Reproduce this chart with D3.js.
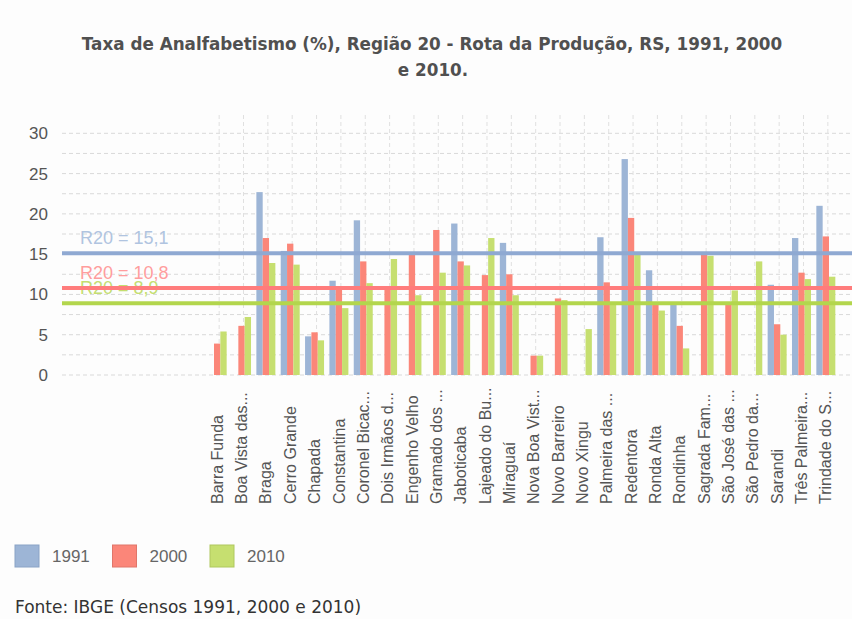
<!DOCTYPE html>
<html lang="pt">
<head>
    <meta charset="UTF-8">
    <title>Taxa de Analfabetismo</title>
    <script src="https://cdn.jsdelivr.net/npm/d3@7/dist/d3.min.js"></script>
    <style>
        body { margin: 0; background: #fdfdfd; }
    </style>
</head>
<body>
    <svg width="852" height="619" id="mainsvg"></svg>
    <script>
        const categories = ['Barra Funda', 'Boa Vista das...', 'Braga', 'Cerro Grande', 'Chapada',
            'Constantina', 'Coronel Bicac...', 'Dois Irmãos d...', 'Engenho Velho', 'Gramado dos ...',
            'Jaboticaba', 'Lajeado do Bu...', 'Miraguaí', 'Nova Boa Vist...', 'Novo Barreiro',
            'Novo Xingu', 'Palmeira das ...', 'Redentora', 'Ronda Alta', 'Rondinha',
            'Sagrada Fam...', 'São José das ...', 'São Pedro da...', 'Sarandi', 'Três Palmeira...',
            'Trindade do S...'];
        const series = ['1991', '2000', '2010'];
        const v1991 = [null, null, 22.7, 15.4, 4.8, 11.7, 19.2, null, null, null, 18.8, null, 16.4,
            null, null, null, 17.1, 26.8, 13.0, 8.7, null, null, null, 11.2, 17.0, 21.0];
        const v2000 = [3.9, 6.1, 17.0, 16.3, 5.3, 10.9, 14.1, 10.8, 15.0, 18.0, 14.1, 12.4, 12.5,
            2.4, 9.5, null, 11.5, 19.5, 8.8, 6.1, 15.0, 8.7, null, 6.3, 12.7, 17.2];
        const v2010 = [5.4, 7.2, 13.9, 13.7, 4.3, 8.3, 11.4, 14.4, 9.9, 12.7, 13.6, 17.0, 9.9,
            2.4, 9.3, 5.7, 8.8, 15.0, 8.0, 3.3, 14.8, 10.5, 14.1, 5.0, 11.9, 12.2];
        const averages = [15.1, 10.8, 8.9];
        const avgLabels = ['R20 = 15,1', 'R20 = 10,8', 'R20 = 8,9'];
        const yTicks = [0, 5, 10, 15, 20, 25, 30];
        const yMinor = [2.5, 7.5, 12.5, 17.5, 22.5, 27.5];

        const barColors = ['#9db5d6', '#fb8679', '#c6df70'];
        const boxStroke = ['#8aa3c6', '#e0766a', '#afc85e'];
        const lineColors = ['#8fa9d2', '#ff7c7c', '#b3d64d'];
        const labelColors = ['#b0c4e0', '#ff9d9d', '#c4de70'];

        const svg = d3.select('#mainsvg');
        const plotLeft = 62, plotRight = 850, plotTop = 115, plotBottom = 375;

        const x = d3.scaleBand().domain(categories).range([205, 838]).paddingInner(0.22).paddingOuter(0.11);
        const x1 = d3.scaleBand().domain(series).range([0, x.bandwidth()]);
        const y = d3.scaleLinear().domain([0, 30]).range([plotBottom, 133.3]);

        // title
        const title = svg.append('g')
            .attr('font-family', 'DejaVu Sans')
            .attr('font-weight', 'bold')
            .attr('font-size', 16.8)
            .attr('fill', '#505050')
            .attr('text-anchor', 'middle');
        title.append('text').attr('x', 432).attr('y', 50)
            .text('Taxa de Analfabetismo (%), Região 20 - Rota da Produção, RS, 1991, 2000');
        title.append('text').attr('x', 433).attr('y', 76).text('e 2010.');

        // grid
        const grid = svg.append('g').attr('stroke', '#d9d9d9').attr('stroke-dasharray', '4,3');
        grid.selectAll('.hmajor').data(yTicks.concat(yMinor)).join('line')
            .attr('x1', plotLeft).attr('x2', plotRight)
            .attr('y1', d => y(d)).attr('y2', d => y(d));
        grid.selectAll('.vgrid').data(categories).join('line')
            .attr('x1', d => x(d) + x.bandwidth() / 2 + 2)
            .attr('x2', d => x(d) + x.bandwidth() / 2 + 2)
            .attr('y1', plotTop).attr('y2', plotBottom)
            .attr('stroke', '#e0e0e0');

        // y axis
        svg.append('g')
            .attr('transform', `translate(${plotLeft},0)`)
            .call(d3.axisLeft(y).tickValues(yTicks).tickSize(0).tickPadding(14))
            .call(g => g.select('.domain').remove())
            .selectAll('text')
            .attr('font-family', 'Liberation Sans, Arial, sans-serif')
            .attr('font-size', 17)
            .attr('fill', '#555');

        // x axis, labels rotated and bottom-aligned
        svg.append('g')
            .attr('transform', `translate(0,${plotBottom})`)
            .call(d3.axisBottom(x).tickSize(0))
            .call(g => g.select('.domain').remove())
            .selectAll('text')
            .attr('x', 0).attr('y', 0).attr('dy', '0.35em')
            .attr('transform', 'translate(0,129) rotate(-90)')
            .attr('text-anchor', 'start')
            .attr('font-family', 'Liberation Sans, Arial, sans-serif')
            .attr('font-size', 16)
            .attr('fill', '#555');

        // bars
        const values = [v1991, v2000, v2010];
        const rows = categories.map((c, i) => ({
            cat: c,
            vals: series.map((s, k) => ({ s: s, k: k, v: values[k][i] }))
        }));
        svg.append('g').selectAll('g').data(rows).join('g')
            .attr('transform', d => `translate(${x(d.cat)},0)`)
            .selectAll('rect').data(d => d.vals.filter(e => e.v !== null)).join('rect')
            .attr('x', d => x1(d.s))
            .attr('width', x1.bandwidth())
            .attr('y', d => y(d.v))
            .attr('height', d => y(0) - y(d.v))
            .attr('fill', d => barColors[d.k]);

        // average labels then lines
        svg.append('g').selectAll('text').data(averages).join('text')
            .attr('x', 80)
            .attr('y', d => y(d) - 9)
            .attr('font-family', 'Liberation Sans, Arial, sans-serif')
            .attr('font-size', 18)
            .attr('fill', (d, i) => labelColors[i])
            .text((d, i) => avgLabels[i]);
        svg.append('g').selectAll('line').data(averages).join('line')
            .attr('x1', plotLeft).attr('x2', 852)
            .attr('y1', d => y(d)).attr('y2', d => y(d))
            .attr('stroke', (d, i) => lineColors[i])
            .attr('stroke-width', 4);

        // legend
        const legend = svg.append('g').selectAll('g').data(series).join('g')
            .attr('transform', (d, i) => `translate(${15 + i * 97.5},545)`);
        legend.append('rect')
            .attr('width', 24).attr('height', 22)
            .attr('fill', (d, i) => barColors[i])
            .attr('stroke', (d, i) => boxStroke[i]);
        legend.append('text')
            .attr('x', 37).attr('y', 17)
            .attr('font-family', 'Liberation Sans, Arial, sans-serif')
            .attr('font-size', 17)
            .attr('fill', '#666')
            .text(d => d);

        // source
        svg.append('text')
            .attr('x', 15).attr('y', 613)
            .attr('font-family', 'DejaVu Sans')
            .attr('font-size', 17)
            .attr('fill', '#333')
            .text('Fonte: IBGE (Censos 1991, 2000 e 2010)');
    </script>
</body>
</html>
